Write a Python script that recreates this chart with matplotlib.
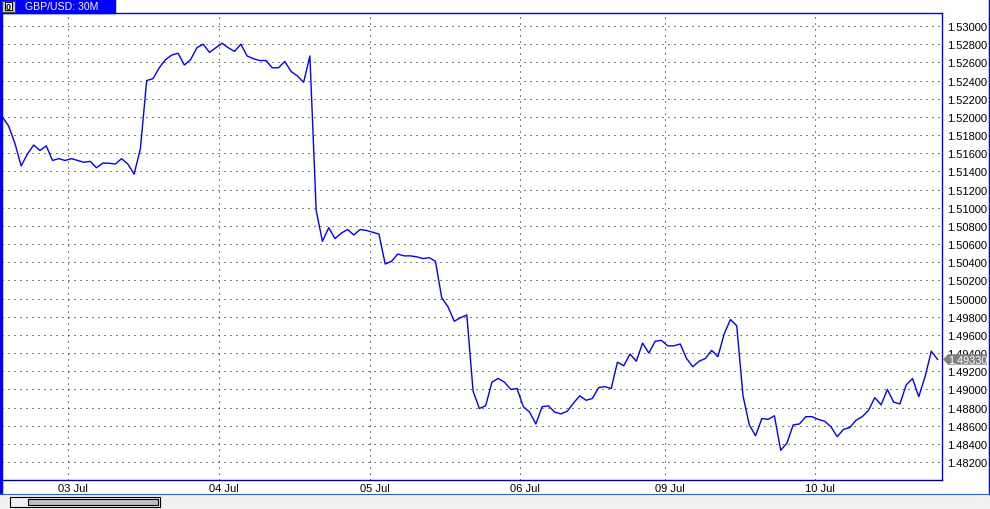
import matplotlib.pyplot as plt
import matplotlib.patches as mpatches
from matplotlib.transforms import ScaledTranslation
import numpy as np

plt.rcParams['font.family'] = ['Liberation Sans', 'DejaVu Sans']

price = [
    1.5200, 1.5190, 1.5171, 1.5146, 1.5159, 1.5169, 1.5163, 1.5168, 1.5152, 1.5154,
    1.5152, 1.5154, 1.5152, 1.5150, 1.5151, 1.5144, 1.5149, 1.5149, 1.5148, 1.5154,
    1.5148, 1.5137, 1.5165, 1.5240, 1.5242, 1.5254, 1.5263, 1.5268, 1.5270, 1.5257,
    1.5263, 1.5276, 1.5280, 1.5271, 1.5276, 1.5281, 1.5276, 1.5272, 1.5280, 1.5267,
    1.5264, 1.5262, 1.5262, 1.5254, 1.5254, 1.5261, 1.5250, 1.5245, 1.5238, 1.5267,
    1.5097, 1.5063, 1.5078, 1.5066, 1.5072, 1.5076, 1.5070, 1.5076, 1.5075, 1.5073,
    1.5071, 1.5038, 1.5041, 1.5049, 1.5047, 1.5047, 1.5046, 1.5044, 1.5045, 1.5041,
    1.5001, 1.4991, 1.4975, 1.4979, 1.4982, 1.4898, 1.4879, 1.4882, 1.4908, 1.4912,
    1.4908, 1.4900, 1.4901, 1.4881, 1.4875, 1.4862, 1.4881, 1.4882, 1.4875, 1.4873,
    1.4876, 1.4885, 1.4893, 1.4888, 1.4890, 1.4902, 1.4903, 1.4901, 1.4930, 1.4926,
    1.4939, 1.4931, 1.4951, 1.4940, 1.4953, 1.4954, 1.4948, 1.4948, 1.4950, 1.4934,
    1.4925, 1.4931, 1.4934, 1.4943, 1.4936, 1.4961, 1.4977, 1.4970, 1.4893, 1.4861,
    1.4849, 1.4868, 1.4867, 1.4871, 1.4833, 1.4841, 1.4861, 1.4862, 1.4870, 1.4870,
    1.4867, 1.4865, 1.4859, 1.4848, 1.4856, 1.4858, 1.4866, 1.4870, 1.4877, 1.4891,
    1.4883, 1.4900, 1.4886, 1.4884, 1.4905, 1.4912, 1.4892, 1.4914, 1.4942, 1.4933,
]
day_bars = [21, 69, 117, 165, 211, 259]
day_labels = ['03 Jul', '04 Jul', '05 Jul', '06 Jul', '09 Jul', '10 Jul']
y_ticks = [1.482 + 0.002 * i for i in range(25)]
last_price = 1.49330
title = 'GBP/USD: 30M'

bars = np.arange(len(price)) * 2
blue = '#0000ff'
ylo, yhi = 1.48003, 1.53143

fig = plt.figure(figsize=(9.9, 5.1), dpi=100)
ax = fig.add_axes([2/990, 29/510, 940/990, 467/510])
ax.plot(bars, price, color=blue, lw=1.0, zorder=3)
ax.set_xlim(-0.1, 299.4)
ax.set_ylim(ylo, yhi)

ax.yaxis.tick_right()
ax.set_yticks(y_ticks)
ax.set_yticklabels(['%.5f' % v for v in y_ticks])
ax.tick_params(axis='y', length=0, pad=3.4, labelsize=8)
ax.set_xticks(day_bars)
ax.set_xticklabels(day_labels)
ax.tick_params(axis='x', length=0, pad=2.3, labelsize=8)
shift = ScaledTranslation(5/100, 0, fig.dpi_scale_trans)
for lab in ax.get_xticklabels():
    lab.set_transform(lab.get_transform() + shift)

ax.grid(True, color='black', lw=0.72, linestyle=(0, (1, 5)))
ax.spines['left'].set_visible(False)
ax.spines['top'].set_color(blue)
ax.spines['right'].set_color(blue)
ax.spines['bottom'].set_color('#000080')
for s in ax.spines.values():
    s.set_linewidth(1.0)

# window chrome, drawn in pixel coords
ov = fig.add_axes([0, 0, 1, 1], zorder=5)
ov.set_xlim(0, 990)
ov.set_ylim(510, 0)
ov.axis('off')
ov.patch.set_alpha(0)

ov.add_patch(mpatches.Rectangle((0, 0), 115, 14, color=blue))
ov.add_patch(mpatches.Rectangle((2, 1.5), 13, 11, fc='#c0c0c0', ec='#404040', lw=0.7))
ov.add_patch(mpatches.Rectangle((5, 3), 7, 8, fc='white', ec='black', lw=0.7))
ov.text(8.5, 7.2, '0', color='black', fontsize=6.5, fontweight='bold', ha='center', va='center')
ov.text(25, 7.2, title, color='white', fontsize=7.6, ha='left', va='center')
ov.add_patch(mpatches.Rectangle((0, 14), 2, 481, color=blue))
ov.plot([989.3, 989.3], [0, 495], color=blue, lw=1.0)

ov.add_patch(mpatches.Rectangle((0, 495), 990, 15, fc='#f0f0f0', ec='none'))
ov.plot([0, 990], [495, 495], color='#3060c0', lw=0.8)
ov.add_patch(mpatches.Rectangle((10, 497.5), 150, 10, fc='#f0f0f0', ec='black', lw=0.8))
ov.add_patch(mpatches.Rectangle((28, 499.5), 130, 6.5, fc='#c0c0c0', ec='black', lw=0.8))

# last price tag
ty = 14 + (yhi - last_price) / (yhi - ylo) * 467
ov.add_patch(mpatches.Polygon([(943, ty), (948, ty - 5.2), (987, ty - 5.2), (987, ty + 5.2), (948, ty + 5.2)],
                              closed=True, fc='#808080', ec='none'))
ov.text(948.5, ty + 0.3, '%.5f' % last_price, color='white', fontsize=7.8, ha='left', va='center')

fig.savefig('out.png', dpi=100)
